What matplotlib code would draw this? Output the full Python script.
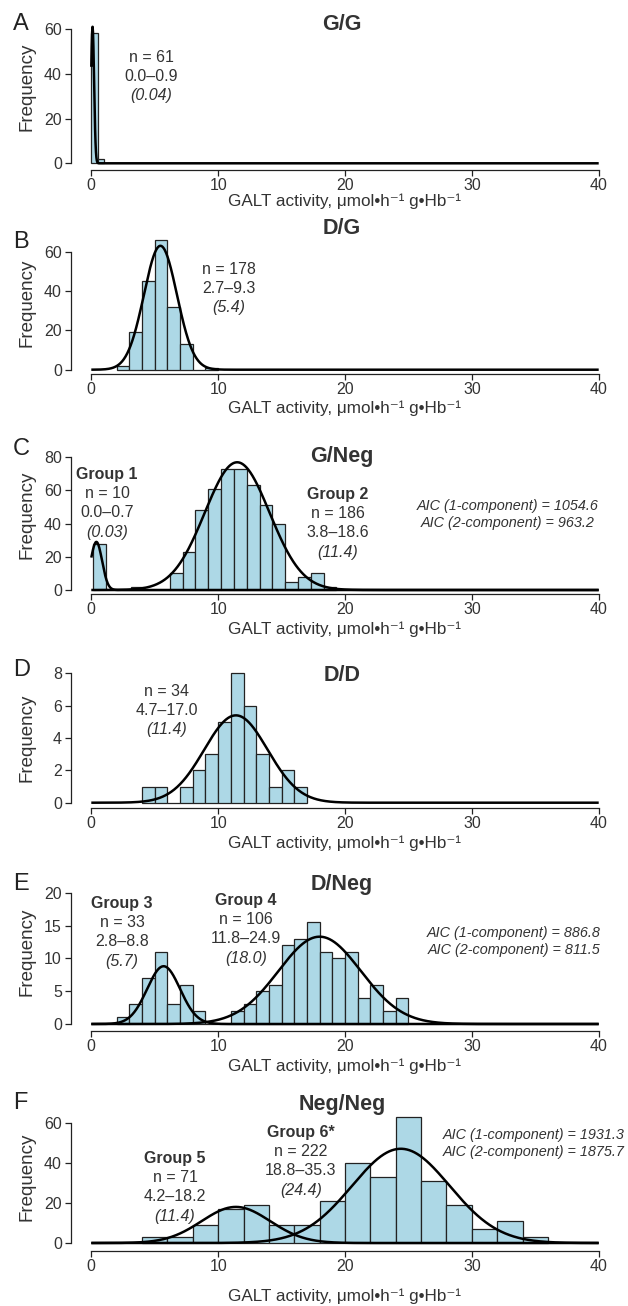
import numpy as np
import matplotlib
matplotlib.use("Agg")
import matplotlib.pyplot as plt

plt.rcParams['font.family'] = ['Liberation Sans', 'DejaVu Sans']

# ---------------- data ----------------
titles = ["G/G", "D/G", "G/Neg", "D/D", "D/Neg", "Neg/Neg"]
letters = ["A", "B", "C", "D", "E", "F"]

# histogram bin starts / widths and bar heights (Frequency)
A_bin0, A_binw = 0.0, 0.5
A_counts = [58, 2]
B_bin0, B_binw = 2.0, 1.0
B_counts = [2, 19, 45, 66, 32, 13, 0, 1]
C_bin0, C_binw = 0.13, 1.01
C_counts = [28, 0, 0, 2, 0, 0, 10, 23, 48, 61, 73, 73, 63, 51, 40, 5, 8, 10, 2]
D_bin0, D_binw = 4.0, 1.0
D_counts = [1, 1, 0, 1, 2, 3, 5, 8, 6, 3, 1, 2, 1]
E_bin0, E_binw = 2.0, 1.0
E_counts = [1, 3, 7, 11, 3, 6, 2, 0, 0, 2, 3, 5, 6, 12, 13, 15.6, 11, 10, 11, 4, 6, 2, 4]
F_bin0, F_binw = 4.0, 2.0
F_counts = [3, 3, 9, 17, 19, 9, 9, 21, 40, 33, 63, 31, 19, 7, 11, 3]

# fitted normal components: (mean, sd, peak height)
A_fit = [(0.10, 0.12, 61)]
B_fit = [(5.45, 1.3, 63)]
C_fit = [(0.40, 0.45, 29), (11.5, 2.55, 77)]
D_fit = [(11.4, 2.5, 5.4)]
E_fit = [(5.7, 1.3, 8.8), (18.0, 3.25, 13.3)]
F_fit = [(11.4, 2.7, 18), (24.4, 3.85, 47)]

# annotations
A_notes = [("", "n = 61", "0.0\u20130.9", "(0.04)")]
B_notes = [("", "n = 178", "2.7\u20139.3", "(5.4)")]
C_notes = [("Group 1", "n = 10", "0.0\u20130.7", "(0.03)"),
           ("Group 2", "n = 186", "3.8\u201318.6", "(11.4)")]
D_notes = [("", "n = 34", "4.7\u201317.0", "(11.4)")]
E_notes = [("Group 3", "n = 33", "2.8\u20138.8", "(5.7)"),
           ("Group 4", "n = 106", "11.8\u201324.9", "(18.0)")]
F_notes = [("Group 5", "n = 71", "4.2\u201318.2", "(11.4)"),
           ("Group 6*", "n = 222", "18.8\u201335.3", "(24.4)")]

C_aic = ["AIC (1-component) = 1054.6", "AIC (2-component) = 963.2"]
E_aic = ["AIC (1-component) = 886.8", "AIC (2-component) = 811.5"]
F_aic = ["AIC (1-component) = 1931.3", "AIC (2-component) = 1875.7"]

y_ticks = [[0, 20, 40, 60], [0, 20, 40, 60], [0, 20, 40, 60, 80],
           [0, 2, 4, 6, 8], [0, 5, 10, 15, 20], [0, 20, 40, 60]]
x_ticks = [0, 10, 20, 30, 40]
xlabel = "GALT activity, \u03bcmol\u2022h\u207b\u00b9 g\u2022Hb\u207b\u00b9"

# ---------------- layout (pixels) ----------------
W, H = 628, 1306
fig = plt.figure(figsize=(W / 100, H / 100), dpi=100)

def fx(x):
    return x / W

def fy(y):
    return 1 - y / H

BAR = "#ADD8E6"
# per panel: y0 pixel, top tick pixel, spine pixel
ypix = [(163.3, 29.0, 170.0), (369.7, 251.7, 374.0), (590.0, 457.3, 594.0),
        (802.7, 673.3, 808.0), (1024.0, 892.7, 1031.0), (1243.0, 1122.7, 1251.0)]
letter_y = [21.5, 240, 446.5, 667.5, 882, 1101]
title_y = [22.5, 226, 454, 673, 882, 1102]
ylab_y = [87, 303, 515, 738, 952, 1177]
xlab_y = [200, 407, 628, 842, 1065, 1295]
note_pos = [
    [(151, 56)],
    [(229, 268)],
    [(107, 473), (338, 493)],
    [(167, 690)],
    [(122, 902), (246, 899)],
    [(175, 1157), (301, 1131)],
]
aic_pos = [None, None, (508, 505), None, (514, 932), (534, 1134)]
line_gap = 19.3

bins0 = [A_bin0, B_bin0, C_bin0, D_bin0, E_bin0, F_bin0]
binws = [A_binw, B_binw, C_binw, D_binw, E_binw, F_binw]
counts = [A_counts, B_counts, C_counts, D_counts, E_counts, F_counts]
fits = [A_fit, B_fit, C_fit, D_fit, E_fit, F_fit]
notes = [A_notes, B_notes, C_notes, D_notes, E_notes, F_notes]
aics = [None, None, C_aic, None, E_aic, F_aic]

left_px, right_px = 71, 619
xr = (-1.6, 41.6)
xs = np.linspace(0, 40, 1200)

def base_text(x, y, s, size, **kw):
    # y is the vertical centre of cap/digit height
    em = size / 72 * 100
    fig.text(fx(x), fy(y + 0.358 * em), s, fontsize=size, va='baseline', **kw)

for i in range(6):
    y0, ytop, yspine = ypix[i]
    ymax_tick = y_ticks[i][-1]
    scale = (y0 - ytop) / ymax_tick
    top_px = ytop - 14
    ylo = -(yspine - y0) / scale
    yhi = (y0 - top_px) / scale
    ax = fig.add_axes([fx(left_px), fy(yspine), (right_px - left_px) / W, (yspine - top_px) / H])
    ax.set_xlim(*xr)
    ax.set_ylim(ylo, yhi)
    for s in ['top', 'right']:
        ax.spines[s].set_visible(False)
    ax.spines['left'].set_bounds(0, ymax_tick)
    ax.spines['bottom'].set_bounds(0, 40)
    for s in ['left', 'bottom']:
        ax.spines[s].set_linewidth(0.9)
        ax.spines[s].set_color('#222222')
    ax.set_xticks(x_ticks)
    ax.set_yticks(y_ticks[i])
    ax.tick_params(axis='both', direction='out', length=4.3, width=0.9, colors='#222222',
                   labelsize=11.5, labelcolor='#333333')
    ax.tick_params(axis='x', pad=1.2)
    ax.tick_params(axis='y', pad=2.2)
    ax.patch.set_alpha(0)

    c = counts[i]
    edges = bins0[i] + binws[i] * np.arange(len(c))
    ax.bar(edges, c, width=binws[i], align='edge', color=BAR, edgecolor='#222222',
           linewidth=0.9, zorder=2, clip_on=False)
    for (m, sd, pk) in fits[i]:
        ys = pk * np.exp(-0.5 * ((xs - m) / sd) ** 2)
        ax.plot(xs, ys, color='black', lw=1.8, zorder=3, clip_on=False,
                solid_capstyle='butt')

    # panel letter and title
    base_text(13, letter_y[i], letters[i], 17, ha='left', color='#222222')
    base_text(342, title_y[i], titles[i], 15.5, ha='center', fontweight='bold',
              color='#333333')
    # axis labels
    fig.text(fx(27), fy(ylab_y[i]), "Frequency", rotation=90, fontsize=13.5,
             ha='center', va='center', color='#333333')
    base_text(344, xlab_y[i], xlabel, 12.3, ha='center', color='#333333')

    # group annotations
    for (grp, n, rng, med), (px_, py_) in zip(notes[i], note_pos[i]):
        yy = py_
        if grp:
            base_text(px_, yy, grp, 11.5, ha='center', fontweight='bold', color='#333333')
            yy += line_gap
        base_text(px_, yy, n, 11.5, ha='center', color='#333333')
        base_text(px_, yy + line_gap, rng, 11.5, ha='center', color='#333333')
        base_text(px_, yy + 2 * line_gap, med, 11.5, ha='center', style='italic',
                  color='#333333')

    if aics[i] is not None:
        ax_, ay_ = aic_pos[i]
        base_text(ax_, ay_, aics[i][0], 10.4, ha='center', style='italic', color='#333333')
        base_text(ax_, ay_ + 17, aics[i][1], 10.4, ha='center', style='italic', color='#333333')

fig.savefig("out.png", dpi=100)
